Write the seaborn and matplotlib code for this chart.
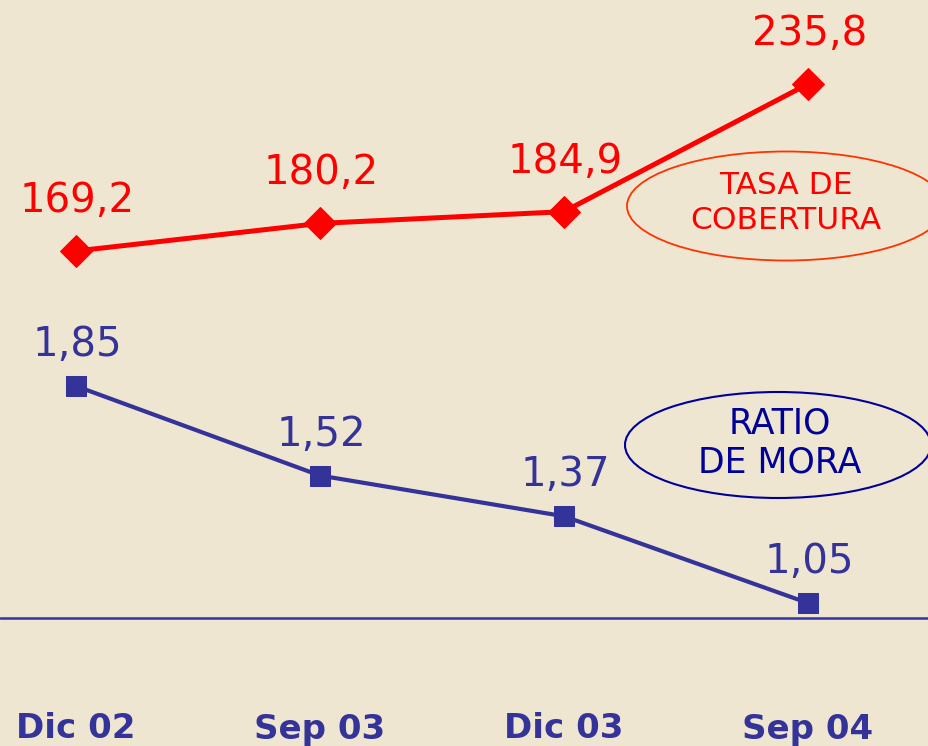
import matplotlib.pyplot as plt
import seaborn as sns
import pandas as pd
import numpy as np
from matplotlib.patches import Ellipse
from matplotlib.transforms import blended_transform_factory

periods = ['Dic 02', 'Sep 03', 'Dic 03', 'Sep 04']
cobertura = [169.2, 180.2, 184.9, 235.8]
mora = [1.85, 1.52, 1.37, 1.05]

bg = '#EFE6D1'
red = '#FF0000'
blue = '#333399'
navy = '#000099'

df = pd.DataFrame({'pos': np.arange(len(periods)), 'periodo': periods,
                   'cobertura': cobertura, 'mora': mora})

sns.set_style('white')
plt.rcParams['font.family'] = ['DejaVu Sans']

fig = plt.figure(figsize=(9.29, 7.46), dpi=100, facecolor=bg)
ax = fig.add_axes([0, 0, 1, 1])
ax.set_facecolor(bg)
ax2 = ax.twinx()
ax2.patch.set_visible(False)

# ratio de mora (lower line)
sns.lineplot(data=df, x='pos', y='mora', ax=ax, color=blue, lw=3,
             marker='s', markersize=15, markeredgecolor=blue, legend=False)
# tasa de cobertura (upper line)
sns.lineplot(data=df, x='pos', y='cobertura', ax=ax2, color=red, lw=3.6,
             marker='D', markersize=16, markeredgecolor=red, legend=False)

ax.set_xlim(-0.311, 3.496)
ax.set_ylim(0.523, 3.273)
ax2.set_ylim(-28.25, 269.32)

ax.axhline(0.995, color='#3333AA', lw=1.8)

for x, v in zip(df['pos'], mora):
    ax.annotate(f'{v:.2f}'.replace('.', ','), (x, v), xytext=(1, 29.5),
                textcoords='offset points', ha='center', va='center',
                fontsize=29, color=blue)
for x, v in zip(df['pos'], cobertura):
    ax2.annotate(f'{v:.1f}'.replace('.', ','), (x, v), xytext=(1, 36),
                 textcoords='offset points', ha='center', va='center',
                 fontsize=29, color=red)

trans = blended_transform_factory(ax.transData, ax.transAxes)
for x, lab in zip(df['pos'], periods):
    ax.text(x, 1 - 729 / 746, lab, transform=trans, ha='center', va='center',
            fontsize=24.5, fontweight='bold', color=blue)

for a in (ax, ax2):
    a.set_xlabel('')
    a.set_ylabel('')
    a.set_xticks([])
    a.set_yticks([])
    for s in a.spines.values():
        s.set_visible(False)

W, H = 929, 746
fig.patches.append(Ellipse((786 / W, 1 - 206 / H), 318 / W, 109 / H,
                           transform=fig.transFigure, fill=False,
                           edgecolor='#FF3300', lw=1.3))
fig.text(786 / W, 1 - 203 / H, 'TASA DE\nCOBERTURA', ha='center', va='center',
         fontsize=22.5, color=red, linespacing=1.25)
fig.patches.append(Ellipse((778 / W, 1 - 445 / H), 306 / W, 106 / H,
                           transform=fig.transFigure, fill=False,
                           edgecolor=navy, lw=1.5))
fig.text(780 / W, 1 - 443 / H, 'RATIO\nDE MORA', ha='center', va='center',
         fontsize=25, color=navy, linespacing=1.15)

fig.savefig('out.png', dpi=100, facecolor=bg)
